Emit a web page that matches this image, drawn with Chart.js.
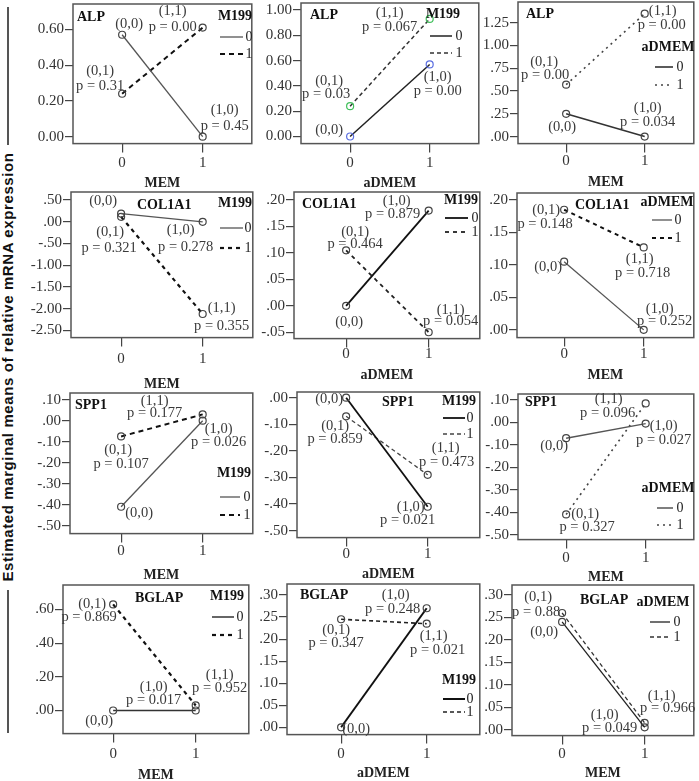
<!DOCTYPE html>
<html>
<head>
<meta charset="utf-8">
<script src="https://cdn.jsdelivr.net/npm/chart.js@4.4.0/dist/chart.umd.min.js"></script>
<style>
  html, body { margin: 0; padding: 0; background: #fff; }
  #page { position: relative; width: 699px; height: 781px; overflow: hidden; }
  #page canvas { position: absolute; }
  .vline { position: absolute; left: 7px; width: 1.5px; background: #555; }
  #ytitle {
    position: absolute; left: -233px; top: 359px; width: 480px; height: 16px; line-height: 16px;
    font: bold 15px "Liberation Sans", Arial, sans-serif; letter-spacing: 0.6px; color: #111;
    white-space: nowrap; text-align: center; transform: rotate(-90deg);
  }
</style>
</head>
<body>
<div id="page">
  <div class="vline" style="top:7px;height:138px"></div>
  <div class="vline" style="top:590px;height:143px"></div>
  <div id="ytitle">Estimated marginal means of relative mRNA expression</div>
</div>
<script>
// Data (panels read left to right, top to bottom)
const genes = ['ALP', 'ALP', 'ALP', 'COL1A1', 'COL1A1', 'COL1A1', 'SPP1', 'SPP1', 'SPP1', 'BGLAP', 'BGLAP', 'BGLAP'];
const xFactors = ['MEM', 'aDMEM', 'MEM', 'MEM', 'aDMEM', 'MEM', 'MEM', 'aDMEM', 'MEM', 'MEM', 'aDMEM', 'MEM'];
const lineFactors = ['M199', 'M199', 'aDMEM', 'M199', 'M199', 'aDMEM', 'M199', 'M199', 'aDMEM', 'M199', 'M199', 'aDMEM'];
const xLevels = [0, 1];
const lineLevels = ['0', '1'];

// means for line level 0 and 1, at x level 0 and 1
const level0 = [
    [0.57, 0.00], [0.00, 0.57], [0.25, 0.00],
    [0.19, 0.00], [0.00, 0.18], [0.105, 0.00],
    [-0.41, 0.00], [0.00, -0.41], [-0.07, -0.005],
    [0.00, 0.00], [0.00, 0.27], [0.24, 0.005]
];
const level1 = [
    [0.24, 0.61], [0.24, 0.93], [0.57, 1.35],
    [0.115, -2.12], [0.105, -0.05], [0.185, 0.127],
    [-0.075, 0.03], [-0.07, -0.29], [-0.41, 0.085],
    [0.63, 0.03], [0.245, 0.235], [0.26, 0.015]
];
// p values for points (0,0), (1,0), (0,1), (1,1)
const pValues = [
    [null, '0.45', '0.31', '0.00'], [null, '0.00', '0.03', '0.067'], [null, '0.034', '0.00', '0.00'],
    [null, '0.278', '0.321', '0.355'], [null, '0.879', '0.464', '0.054'], [null, '0.252', '0.148', '0.718'],
    [null, '0.026', '0.107', '0.177'], [null, '0.021', '0.859', '0.473'], [null, '0.027', '0.327', '0.096'],
    [null, '0.017', '0.869', '0.952'], [null, '0.248', '0.347', '0.021'], [null, '0.049', '0.88', '0.966']
];
const yTicks = [
    [0, 0.2, 0.4, 0.6], [0, 0.2, 0.4, 0.6, 0.8, 1.0], [0, 0.25, 0.5, 0.75, 1.0, 1.25],
    [-2.5, -2, -1.5, -1, -0.5, 0, 0.5], [-0.05, 0, 0.05, 0.1, 0.15, 0.2], [0, 0.05, 0.1, 0.15, 0.2],
    [-0.5, -0.4, -0.3, -0.2, -0.1, 0, 0.1], [-0.5, -0.4, -0.3, -0.2, -0.1, 0], [-0.5, -0.4, -0.3, -0.2, -0.1, 0, 0.1],
    [0, 0.2, 0.4, 0.6], [0, 0.05, 0.1, 0.15, 0.2, 0.25, 0.3], [0, 0.05, 0.1, 0.15, 0.2, 0.25, 0.3]
];
const yTickLabels = [
    ['0.00', '0.20', '0.40', '0.60'], ['0.00', '0.20', '0.40', '0.60', '0.80', '1.00'], ['.00', '.25', '.50', '.75', '1.00', '1.25'],
    ['-2.50', '-2.00', '-1.50', '-1.00', '-.50', '.00', '.50'], ['-.05', '.00', '.05', '.10', '.15', '.20'], ['.00', '.05', '.10', '.15', '.20'],
    ['-.50', '-.40', '-.30', '-.20', '-.10', '.00', '.10'], ['-.50', '-.40', '-.30', '-.20', '-.10', '.00'], ['-.50', '-.40', '-.30', '-.20', '-.10', '.00', '.10'],
    ['.00', '.20', '.40', '.60'], ['.00', '.05', '.10', '.15', '.20', '.25', '.30'], ['.00', '.05', '.10', '.15', '.20', '.25', '.30']
];

// Layout (page pixels)
const boxes = [
    [73, 4, 255, 143], [301, 3, 482, 143], [518, 2, 697, 143],
    [71, 192, 256, 337], [294, 192, 483, 338], [517, 193, 697, 337],
    [70, 393, 256, 533], [297, 392, 483, 537], [518, 394, 697, 539],
    [63, 585, 252, 733], [287, 584, 483, 734], [512, 585, 697, 735]
];
const catPx = [[123, 205], [351, 432], [567, 647], [122, 205], [347, 431], [565, 646],
    [122, 205], [347, 430], [567, 648], [114, 198], [342, 429], [563, 647]];
const yRange = [[-0.039, 0.742], [-0.056, 1.056], [-0.077, 1.478], [-2.662, 0.685], [-0.062, 0.2152], [-0.0119, 0.2108],
    [-0.538, 0.132], [-0.526, 0.0215], [-0.522, 0.127], [-0.137, 0.745], [-0.0166, 0.325], [-0.0134, 0.3224]];
const xTickOff = [19, 19, 17, 21, 15, 16, 17, 16, 18, 20, 19, 18];
const xTitleOff = [40, 40, 39, 47, 37, 38, 42, 37, 38, 42, 39, 38];
const titlePos = [[77, 17], [310, 15], [526, 14], [137, 205], [302, 204], [575, 205],
    [75, 405], [382, 402], [525, 402], [135, 598], [300, 595], [580, 600]];
// legend: title cx, title y, line x0, line x1, digit cx, y level0, y level1
const legendPos = [
    [235, 16, 220, 243, 249, 37, 54], [443, 14, 430, 452, 459, 36, 53], [668, 47, 655, 673, 680, 67, 85],
    [235, 203, 220, 243, 248, 228, 248], [461, 200, 445, 468, 475, 218, 232], [667, 202, 652, 672, 678, 220, 238],
    [234, 473, 220, 240, 247, 497, 515], [459, 401, 443, 465, 470, 418, 434], [668, 488, 657, 673, 680, 508, 525],
    [227, 596, 212, 234, 240, 617, 635], [459, 680, 443, 465, 470, 699, 712], [663, 602, 650, 670, 677, 622, 637]
];
// label offsets from each point: [dx, dy, p dx, p dy]
const annOff = [
    [[7, -11], [22, -26, 22, -10], [-22, -23, -22, -8], [-30, -16, -30, 0]],
    [[-21, -6], [8, 13, 8, 27], [-21, -25, -24, -12], [-40, -6, -40, 8]],
    [[-4, 13], [3, -28, 3, -14], [-22, -22, -21, -9], [18, -2, 17, 12]],
    [[-18, -12], [-22, 8, -17, 25], [-11, 15, -12, 31], [19, -6, 19, 12]],
    [[3, 16], [-32, -9, -36, 4], [9, -18, 9, -6], [22, -22, 22, -11]],
    [[-16, 5], [16, -21, 21, -9], [-18, 0, -19, 14], [-4, 12, -1, 26]],
    [[18, 6], [16, 8, 16, 21], [-3, 14, 0, 28], [-48, -13, -48, -1]],
    [[-17, 1], [-17, 0, -20, 13], [-11, 10, -11, 23], [18, -27, 19, -13]],
    [[-12, 8], [18, 3, 18, 17], [19, 0, 21, 13], [-37, -4, -38, 10]],
    [[-14, 11], [-42, -23, -42, -10], [-21, 0, -24, 13], [24, -30, 24, -17]],
    [[15, 2], [-31, -13, -34, 1], [-5, 11, -5, 24], [7, 13, 11, 27]],
    [[-18, 10], [-40, -12, -35, 1], [-24, -16, -26, -1], [17, -27, 23, -15]]
];
// [color, width, dash] for line level 0 and 1
const lineStyles = [
    [['#555', 1.3, []], ['#111', 2, [5, 4]]], [['#222', 1.5, []], ['#333', 1.5, [4, 3]]], [['#333', 1.6, []], ['#444', 1.6, [2, 4]]],
    [['#555', 1.3, []], ['#111', 2.2, [4, 4]]], [['#111', 1.8, []], ['#222', 1.8, [4, 4]]], [['#555', 1.3, []], ['#111', 2, [4, 4]]],
    [['#555', 1.3, []], ['#111', 2, [5, 4]]], [['#111', 1.8, []], ['#444', 1.3, [4, 3]]], [['#555', 1.5, []], ['#444', 1.6, [2, 4]]],
    [['#333', 1.5, []], ['#111', 2.2, [4, 4]]], [['#111', 2, []], ['#222', 1.6, [4, 3]]], [['#222', 1.3, []], ['#333', 1.3, [4, 3]]]
];
const markerColors = genes.map((g, i) => i === 1 ? ['#5a6ee0', '#3fbf5a'] : ['#444', '#444']);

const SERIF = '"Liberation Serif", "Times New Roman", serif';
const PAD_L = 62, PAD_T = 12, PAD_R = 2;
const page = document.getElementById('page');

// frame, gene name, legend and point labels
const decor = {
    id: 'decor',
    afterDraw(chart, args, o) {
        const i = o.panel, ox = o.ox, oy = o.oy;
        const { ctx, chartArea: a, scales: { x, y } } = chart;
        ctx.save();
        ctx.strokeStyle = '#555';
        ctx.lineWidth = 1.5;
        ctx.strokeRect(a.left, a.top, a.width, a.height);

        ctx.fillStyle = '#111';
        ctx.textBaseline = 'middle';
        ctx.font = 'bold 14px ' + SERIF;
        ctx.textAlign = 'left';
        ctx.fillText(genes[i], titlePos[i][0] - ox, titlePos[i][1] - oy);

        const lg = legendPos[i];
        ctx.textAlign = 'center';
        ctx.fillText(lineFactors[i], lg[0] - ox, lg[1] - oy);
        ctx.font = '14px ' + SERIF;
        lineLevels.forEach((lev, k) => {
            const st = lineStyles[i][k];
            const ly = lg[5 + k] - oy;
            ctx.strokeStyle = st[0];
            ctx.lineWidth = st[1];
            ctx.setLineDash(st[2]);
            ctx.beginPath();
            ctx.moveTo(lg[2] - ox, ly);
            ctx.lineTo(lg[3] - ox, ly);
            ctx.stroke();
            ctx.setLineDash([]);
            ctx.fillStyle = '#222';
            ctx.fillText(lev, lg[4] - ox, ly);
        });

        ctx.fillStyle = '#3a3a3a';
        ctx.font = '14.5px ' + SERIF;
        [level0[i], level1[i]].forEach((vals, s) => {
            xLevels.forEach((c, j) => {
                const idx = s * 2 + j;
                const off = annOff[i][idx];
                const px = x.getPixelForValue(c), py = y.getPixelForValue(vals[j]);
                ctx.fillText('(' + c + ',' + s + ')', px + off[0], py + off[1]);
                const p = pValues[i][idx];
                if (p !== null) ctx.fillText('p = ' + p, px + off[2], py + off[3]);
            });
        });
        ctx.restore();
    }
};

genes.forEach((gene, i) => {
    const [L, T, R, B] = boxes[i];
    const [c0, c1] = catPx[i];
    const unit = c1 - c0;
    const axisH = xTitleOff[i] + 8.4;
    const w = R - L + PAD_L + PAD_R;
    const h = B - T + PAD_T + axisH;
    const ox = L - PAD_L, oy = T - PAD_T;

    const canvas = document.createElement('canvas');
    canvas.width = w;
    canvas.height = Math.ceil(h);
    canvas.style.left = ox + 'px';
    canvas.style.top = oy + 'px';
    page.appendChild(canvas);

    const datasets = [level0[i], level1[i]].map((vals, s) => ({
        label: lineLevels[s],
        data: xLevels.map((c, j) => ({ x: c, y: vals[j] })),
        borderColor: lineStyles[i][s][0],
        borderWidth: lineStyles[i][s][1],
        borderDash: lineStyles[i][s][2],
        pointRadius: 3.5,
        pointBorderWidth: 1.2,
        pointBorderColor: markerColors[i][s],
        pointBackgroundColor: 'rgba(255,255,255,0)',
        tension: 0
    }));

    new Chart(canvas, {
        type: 'line',
        data: { datasets },
        options: {
            responsive: false,
            animation: false,
            devicePixelRatio: 1,
            layout: { padding: { top: PAD_T, right: PAD_R, left: 0, bottom: 0 } },
            plugins: { legend: { display: false }, tooltip: { enabled: false }, decor: { panel: i, ox, oy } },
            scales: {
                x: {
                    type: 'linear',
                    min: -(c0 - L) / unit,
                    max: 1 + (R - c1) / unit,
                    afterBuildTicks: s => { s.ticks = xLevels.map(v => ({ value: v })); },
                    afterFit: s => { s.height = axisH; },
                    grid: { drawOnChartArea: false, tickLength: 9, color: '#444', lineWidth: 1.2 },
                    border: { display: false },
                    ticks: { padding: xTickOff[i] - 18, color: '#333', font: { family: SERIF, size: 15, lineHeight: 1.2 }, callback: v => String(v) },
                    title: { display: true, text: xFactors[i], color: '#222', padding: 0, font: { family: SERIF, size: 14, weight: 'bold', lineHeight: 1.2 } }
                },
                y: {
                    min: yRange[i][0],
                    max: yRange[i][1],
                    afterBuildTicks: s => { s.ticks = yTicks[i].map(v => ({ value: v })); },
                    afterFit: s => { s.width = PAD_L; },
                    grid: { drawOnChartArea: false, tickLength: 8, color: '#444', lineWidth: 1.2 },
                    border: { display: false },
                    ticks: { padding: 1, color: '#333', font: { family: SERIF, size: 15 }, callback: (v, k) => yTickLabels[i][k] }
                }
            }
        },
        plugins: [decor]
    });
});
</script>
</body>
</html>
